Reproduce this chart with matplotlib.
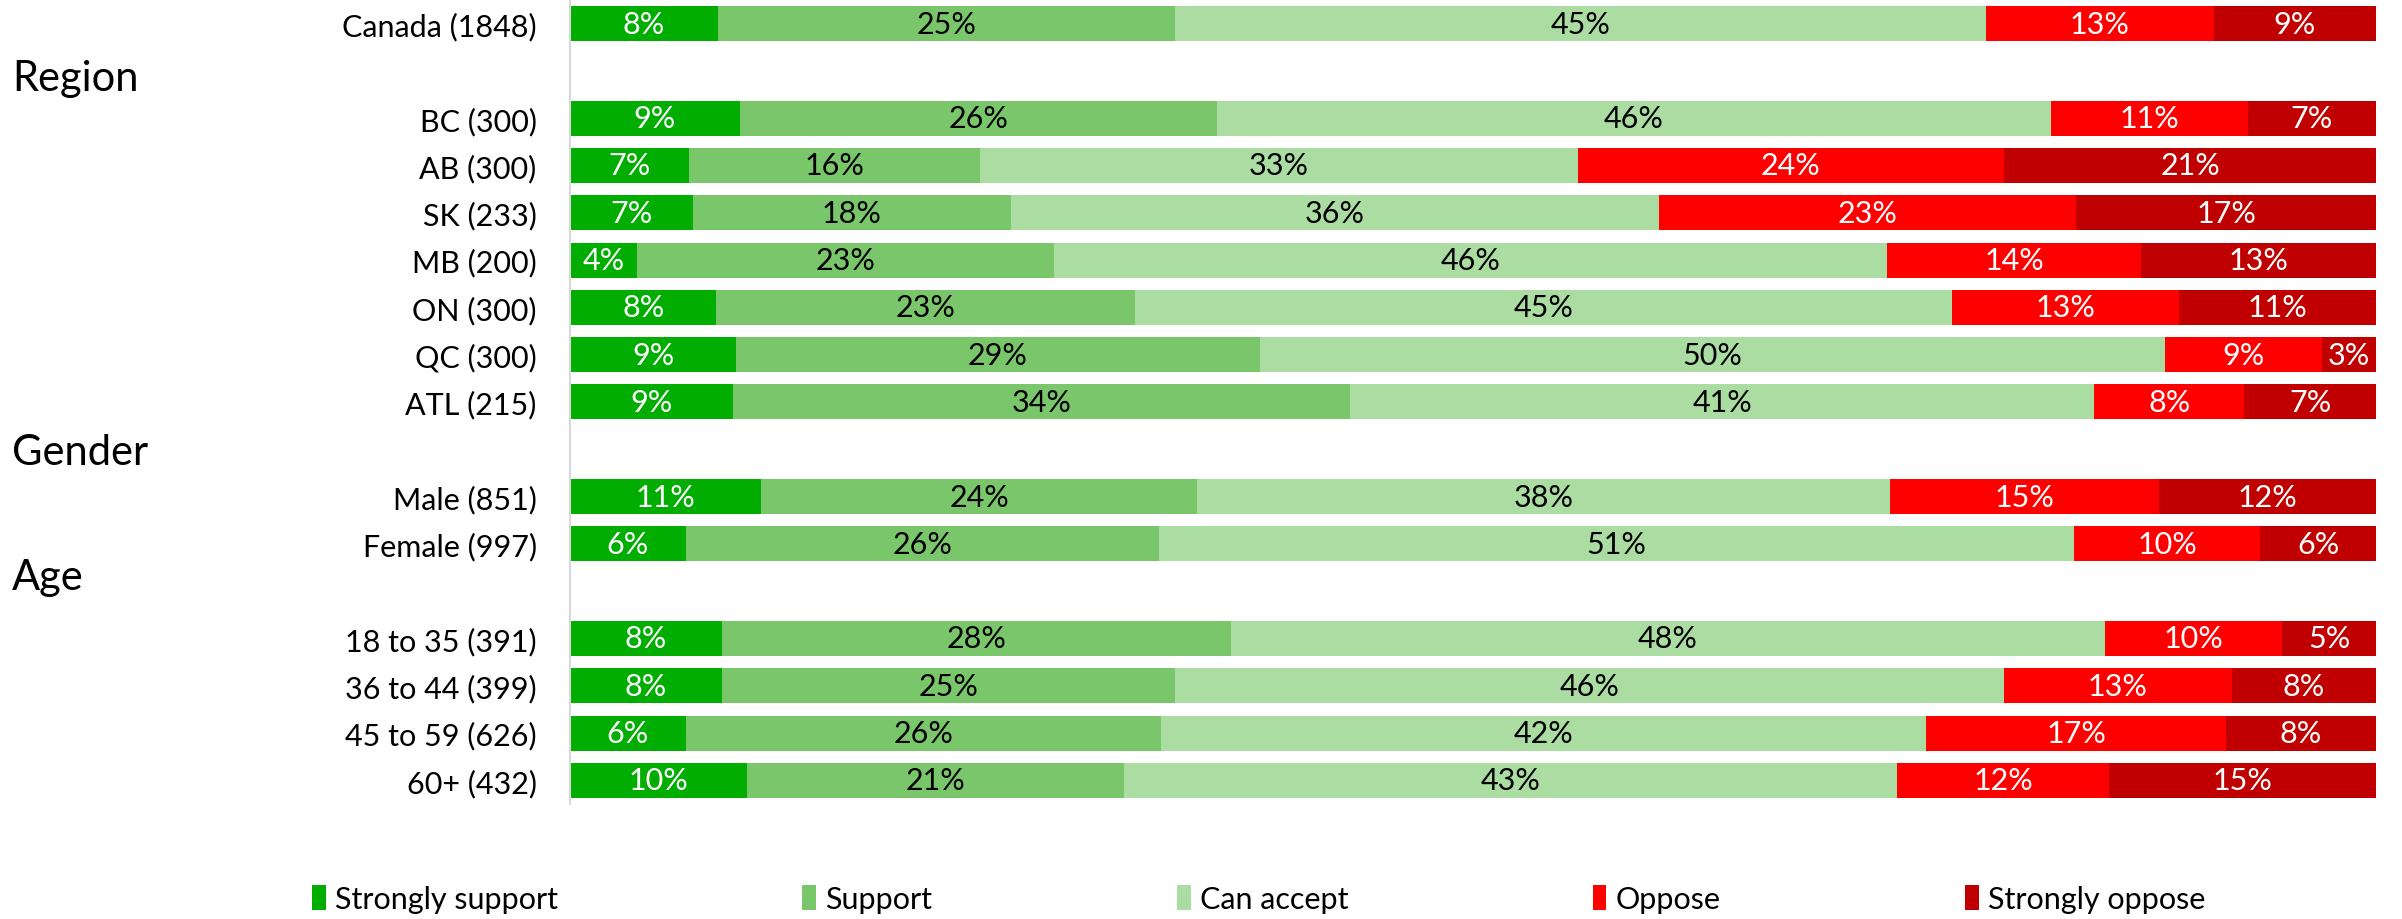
import numpy as np
import matplotlib
matplotlib.use("Agg")
import matplotlib.pyplot as plt
from matplotlib.patches import Patch
import matplotlib.transforms as mtransforms

plt.rcParams['font.family'] = ['Lato', 'DejaVu Sans']

# rows (None = group header row)
rows = ["Canada (1848)", None, "BC (300)", "AB (300)", "SK (233)", "MB (200)",
        "ON (300)", "QC (300)", "ATL (215)", None, "Male (851)", "Female (997)",
        None, "18 to 35 (391)", "36 to 44 (399)", "45 to 59 (626)", "60+ (432)"]
headers = {"Region": 1.15, "Gender": 9.05, "Age": 11.7}

series = ["Strongly support", "Support", "Can accept", "Oppose", "Strongly oppose"]
colors = ["#00AD00", "#7AC66B", "#ABDDA3", "#FF0000", "#C00000"]
text_colors = ["white", "black", "black", "white", "white"]

# percentages per row (estimated from the chart)
strongly_support = [8.2, None, 9.4, 6.6, 6.8, 3.7, 8.1, 9.2, 9.0, None, 10.6, 6.4, None, 8.4, 8.4, 6.4, 9.8]
support          = [25.3, None, 26.4, 16.1, 17.6, 23.1, 23.2, 29.0, 34.2, None, 24.1, 26.2, None, 28.2, 25.1, 26.3, 20.9]
can_accept       = [44.9, None, 46.2, 33.1, 35.9, 46.1, 45.2, 50.1, 41.2, None, 38.4, 50.7, None, 48.4, 45.9, 42.4, 42.8]
oppose           = [12.6, None, 10.9, 23.6, 23.1, 14.1, 12.6, 8.7, 8.3, None, 14.9, 10.3, None, 9.8, 12.6, 16.6, 11.7]
strongly_oppose  = [9.0, None, 7.1, 20.6, 16.6, 13.0, 10.9, 3.0, 7.3, None, 12.0, 6.4, None, 5.2, 8.0, 8.3, 14.8]

data = [strongly_support, support, can_accept, oppose, strongly_oppose]

fig = plt.figure(figsize=(24.02, 9.2), dpi=100)
ax = fig.add_axes([0.2373, 0.125, 0.7519, 0.874])

y = np.arange(len(rows))
left = np.zeros(len(rows))
for vals, col, tcol in zip(data, colors, text_colors):
    for i, v in enumerate(vals):
        if v is None:
            continue
        ax.barh(y[i], v, left=left[i], height=0.74, color=col, edgecolor='none')
        ax.text(left[i] + v / 2, y[i], f"{round(v)}%", ha='center', va='center',
                color=tcol, fontsize=22)
        left[i] += v

ax.set_xlim(0, 100)
ax.set_ylim(len(rows) - 0.5, -0.5)
ax.set_yticks(y)
ax.set_yticklabels([r if r else "" for r in rows], fontsize=22)
ax.tick_params(axis='y', length=0, pad=24)
ax.set_xticks([])
for s in ["top", "right", "bottom"]:
    ax.spines[s].set_visible(False)
ax.spines["left"].set_color("#d9d9d9")
ax.spines["left"].set_linewidth(1.5)

# group headers
trans = mtransforms.blended_transform_factory(fig.transFigure, ax.transData)
for name, ypos in headers.items():
    ax.text(0.005, ypos, name, transform=trans, ha='left', va='center', fontsize=30)

handles = [Patch(facecolor=c, edgecolor='none', label=s) for s, c in zip(series, colors)]
fig.legend(handles=handles, loc='center', bbox_to_anchor=(0.524, 0.022), ncol=5,
           frameon=False, fontsize=22, handlelength=0.45, handleheight=0.9,
           handletextpad=0.3, columnspacing=8.0)

fig.savefig("out.png", dpi=100)
